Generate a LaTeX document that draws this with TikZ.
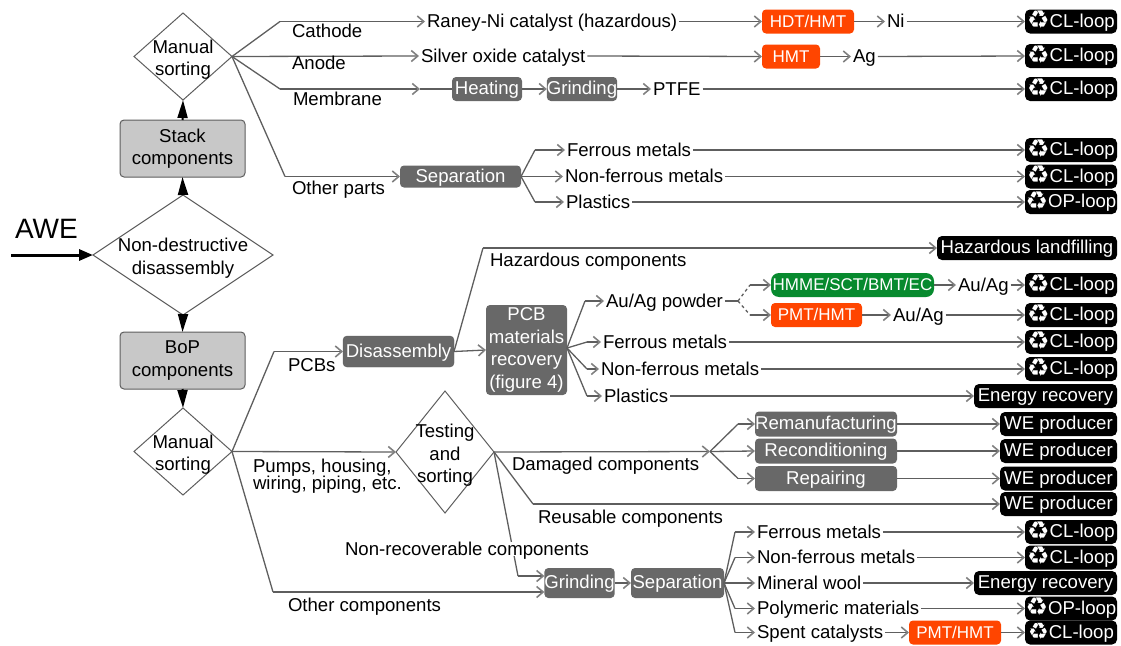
\documentclass[tikz,border=0pt]{standalone}
\usepackage{fontspec}
\usepackage{tikz}
\usetikzlibrary{arrows.meta}
\usetikzlibrary{shapes.geometric}
\setmainfont{Liberation Sans}
\newfontfamily\symfont{DejaVu Sans}
\newcommand{\recy}{\raisebox{-1.5pt}{\symfont\fontsize{25}{25}\selectfont ♻}}
\newcommand{\recylow}{\raisebox{-1pt}{\symfont\fontsize{23}{23}\selectfont ♻}}
\newcommand{\lift}{\rule{0pt}{20pt}}
\definecolor{linegrey}{HTML}{5E5E5E}
\definecolor{tipgrey}{HTML}{808080}
\definecolor{stepgrey}{HTML}{686868}
\definecolor{partgrey}{HTML}{C8C8C8}
\definecolor{hazorange}{HTML}{FF4500}
\definecolor{ecogreen}{HTML}{078A2E}

\begin{document}
\begin{tikzpicture}
	[x=1pt,y=-1pt,
	every node/.style={font=\fontsize{18.6}{22.5}\selectfont,inner sep=0pt,outer sep=0pt},
	lbl/.style={anchor=west,inner xsep=2pt,text height=13pt,text depth=1pt},
	choice/.style={diamond,draw=linegrey,line width=1pt,inner sep=-9pt,align=center},
	part/.style={rectangle,rounded corners=4pt,draw=linegrey,line width=1pt,fill=partgrey,align=center,minimum width=125,minimum height=57},
	stepfill/.style={rectangle,rounded corners=4pt,fill=stepgrey,text=white,align=center},
	stepbox/.style={stepfill,minimum height=24,text height=12.5pt,text depth=1pt},
	hotbox/.style={rectangle,rounded corners=4pt,fill=hazorange,text=white,minimum height=24,font=\fontsize{17}{22}\selectfont,text height=12.5pt,text depth=1pt},
	pill/.style={rectangle,rounded corners=5pt,fill=black,text=white,minimum height=24,text height=12.5pt,text depth=1pt},
	loopbox/.style={pill,minimum width=92},
	wemaker/.style={pill,minimum width=117},
	energy/.style={pill,minimum width=143},
	link/.style={draw=linegrey,line width=1.3pt,-{Straight Barb[length=6.5pt,width=11pt,line width=1.6pt,color=tipgrey]}},
	plainlink/.style={draw=linegrey,line width=1.3pt},
	flow/.style={draw=black,line width=2pt,-{Triangle[length=18pt,width=10pt]}}]
	\useasboundingbox (0,0) rectangle (1121,645);

	\node[choice,minimum width=98,minimum height=87,shape aspect=1.13] (sort1) at (183,56.5) {\lift Manual\\sorting};
	\node[part] (stack) at (182.5,148.5) {Stack\\components};
	\node[choice,minimum width=180,minimum height=120,shape aspect=1.5] (disasm) at (183,255) {\lift Non-destructive\\disassembly};
	\node[part] (bop) at (182.5,360.5) {BoP\\components};
	\node[choice,minimum width=98,minimum height=87,shape aspect=1.13] (sort2) at (183,451.5) {\lift Manual\\sorting};
	\node[choice,minimum width=98,minimum height=122,shape aspect=0.8] (test) at (445,452) {\lift Testing\\and\\sorting};
	\node[anchor=west,font=\fontsize{28}{28}\selectfont] (awe) at (15,229) {AWE};
	\coordinate (awein) at (11,255);

	\node[lbl] (raney) at (425,21.5) {Raney-Ni catalyst (hazardous)};
	\node[hotbox,minimum width=92] (hdt) at (808,21.5) {HDT/HMT};
	\node[lbl] (ni) at (885,21.5) {Ni};
	\node[loopbox] (cl1) at (1071,21.5) {\recy CL-loop};
	\node[lbl] (silver) at (419,56) {Silver oxide catalyst};
	\node[hotbox,minimum width=58] (hmt) at (791,56.5) {HMT};
	\node[lbl] (ag) at (851,56.5) {Ag};
	\node[loopbox] (cl2) at (1071,56) {\recy CL-loop};
	\node[stepbox,minimum width=70] (heat) at (487,89) {Heating};
	\node[stepbox,minimum width=70] (grind1) at (582,89) {Grinding};
	\node[lbl] (ptfe) at (651,89) {PTFE};
	\node[loopbox] (cl3) at (1071,89) {\recy CL-loop};

	\node[stepbox,minimum width=121,minimum height=22] (sep1) at (460.5,176.5) {Separation};
	\node[lbl] (fe1) at (565,150) {Ferrous metals};
	\node[lbl] (nf1) at (563,176.5) {Non-ferrous metals};
	\node[lbl] (pl1) at (564,202) {Plastics};
	\node[loopbox] (cl4) at (1071,150) {\recy CL-loop};
	\node[loopbox] (cl5) at (1071,176.5) {\recy CL-loop};
	\node[loopbox] (op1) at (1071,202) {\recy OP-loop};
	\node[pill,minimum width=180] (landfill) at (1027,248) {Hazardous landfilling};

	\node[stepbox,minimum width=111,minimum height=31,draw=linegrey] (dis) at (398.5,351.5) {Disassembly};
	\node[stepfill,minimum width=81,minimum height=90] (pcb) at (526.5,350) {PCB\\materials\\recovery\\(figure 4)};
	\node[lbl] (powder) at (604,301) {Au/Ag powder};
	\node[hotbox,minimum width=163,fill=ecogreen,rounded corners=8pt] (hmme) at (852.5,285) {HMME/SCT/BMT/EC};
	\node[hotbox,minimum width=91] (pmt1) at (816.5,315) {PMT/HMT};
	\node[lbl] (au1) at (956,285) {Au/Ag};
	\node[lbl] (au2) at (891,315) {Au/Ag};
	\node[loopbox] (cl6) at (1071,285) {\recy CL-loop};
	\node[loopbox] (cl7) at (1071,315) {\recy CL-loop};
	\node[lbl] (fe2) at (601,342) {Ferrous metals};
	\node[lbl] (nf2) at (599,369) {Non-ferrous metals};
	\node[lbl] (pl2) at (602,396) {Plastics};
	\node[loopbox] (cl8) at (1071,342) {\recy CL-loop};
	\node[loopbox] (cl9) at (1071,369) {\recy CL-loop};
	\node[energy] (en1) at (1045.5,396) {Energy recovery};

	\node[stepbox,minimum width=142,minimum height=25] (reman) at (826,424) {Remanufacturing};
	\node[stepbox,minimum width=142,minimum height=25] (recon) at (826,451) {Reconditioning};
	\node[stepbox,minimum width=142,minimum height=25] (repair) at (826,478.5) {Repairing};
	\node[wemaker] (we1) at (1058.5,424) {WE producer};
	\node[wemaker] (we2) at (1058.5,451) {WE producer};
	\node[wemaker] (we3) at (1058.5,478.5) {WE producer};
	\node[wemaker] (we4) at (1058.5,504) {WE producer};

	\node[stepbox,minimum width=69,minimum height=30] (grind2) at (579.5,583) {Grinding};
	\node[stepbox,minimum width=93,minimum height=30] (sep2) at (677.5,583) {Separation};
	\node[lbl] (fe3) at (755,532) {Ferrous metals};
	\node[lbl] (nf3) at (755,557.5) {Non-ferrous metals};
	\node[lbl] (wool) at (755,583) {Mineral wool};
	\node[lbl] (poly) at (755,608.5) {Polymeric materials};
	\node[lbl] (spent) at (755,632.5) {Spent catalysts};
	\node[hotbox,minimum width=92] (pmt2) at (955,632.5) {PMT/HMT};
	\node[loopbox] (cl10) at (1071,532) {\recy CL-loop};
	\node[loopbox] (cl11) at (1071,557.5) {\recy CL-loop};
	\node[energy] (en2) at (1045.5,583) {Energy recovery};
	\node[loopbox] (op2) at (1071,608.5) {\recy OP-loop};
	\node[loopbox] (cl12) at (1071,632.5) {\recylow CL-loop};

	\coordinate (bendcat) at (280,21.5);
	\coordinate (bendmem) at (280,89);
	\coordinate (tipmem) at (420,89);
	\coordinate (bendoth) at (285,176.5);
	\coordinate (bendfe1) at (535,150);
	\coordinate (bendpl1) at (535,202);
	\coordinate (bendpcb) at (274,351.5);
	\coordinate (bendhaz) at (483,248);
	\coordinate (pcbout) at (567,348);
	\coordinate (bendpow) at (585,301);
	\coordinate (bendfe2) at (587,342);
	\coordinate (bendnf2) at (587,369);
	\coordinate (bendpl2) at (587,396);
	\coordinate (forkau) at (738,301);
	\coordinate (bendhm) at (750,285);
	\coordinate (bendpm) at (750,315);
	\coordinate (forkdam) at (710,451.5);
	\coordinate (bendrem) at (738,424);
	\coordinate (bendrep) at (738,478.5);
	\coordinate (bendreu) at (533,504);
	\coordinate (bendnon) at (518,576);
	\coordinate (bendother) at (273,592);
	\coordinate (bendfe3) at (735,532);
	\coordinate (bendnf3) at (735,557.5);
	\coordinate (bendpo3) at (735,608.5);
	\coordinate (bendsp3) at (735,632.5);

	\draw[flow,line width=3pt,-{Triangle[length=14pt,width=11pt]}] (awein) -- (disasm.west);
	\foreach \from/\to in
	{disasm/stack, stack/sort1}
	\draw[flow] (\from.north) -- (\to.south);
	\foreach \from/\to in
	{disasm/bop, bop/sort2}
	\draw[flow] (\from.south) -- (\to.north);

	\foreach \from/\to in
	{raney/hdt, hdt/ni, ni/cl1, silver/hmt, hmt/ag, ag/cl2, heat/grind1, grind1/ptfe, ptfe/cl3,
	fe1/cl4, nf1/cl5, pl1/op1, dis/pcb, hmme/au1, au1/cl6, pmt1/au2, au2/cl7,
	fe2/cl8, nf2/cl9, pl2/en1, reman/we1, recon/we2, repair/we3, sort2/test,
	grind2/sep2, fe3/cl10, nf3/cl11, wool/en2, poly/op2, spent/pmt2, pmt2/cl12}
	\draw[link] (\from.east) -- (\to.west);

	\foreach \from/\to in
	{bendcat/raney, bendoth/sep1, bendfe1/fe1, bendpl1/pl1, bendpcb/dis, bendhaz/landfill,
	bendpow/powder, bendfe2/fe2, bendnf2/nf2, bendpl2/pl2, bendhm/hmme, bendpm/pmt1,
	bendrem/reman, bendrep/repair, bendreu/we4,
	bendfe3/fe3, bendnf3/nf3, bendpo3/poly, bendsp3/spent}
	\draw[link] (\from) -- (\to.west);

	\draw[plainlink] (sort1.east) -- (bendcat);
	\draw[plainlink] (sort1.east) -- (bendmem);
	\draw[plainlink] (sort1.east) -- (bendoth);
	\draw[link] (sort1.east) -- (silver.west);
	\draw[link] (bendmem) -- (tipmem);
	\draw[plainlink] (tipmem) -- (heat.west);
	\draw[plainlink] (sep1.east) -- (bendfe1);
	\draw[plainlink] (sep1.east) -- (bendpl1);
	\draw[link] (sep1.east) -- (nf1.west);
	\draw[plainlink] (sort2.east) -- (bendpcb);
	\draw[plainlink] (sort2.east) -- (bendother);
	\draw[link] (bendother) -- (bendother -| grind2.west);
	\draw[plainlink] (dis.east) -- (bendhaz);
	\draw[plainlink] (pcbout) -- (bendpow);
	\draw[plainlink] (pcbout) -- (bendfe2);
	\draw[plainlink] (pcbout) -- (bendnf2);
	\draw[plainlink] (pcbout) -- (bendpl2);
	\draw[plainlink] (powder.east) -- (forkau);
	\draw[plainlink,dashed] (forkau) -- (bendhm);
	\draw[plainlink,dashed] (forkau) -- (bendpm);
	\draw[link] (test.east) -- (forkdam);
	\draw[plainlink] (forkdam) -- (bendrem);
	\draw[plainlink] (forkdam) -- (bendrep);
	\draw[link] (forkdam) -- (recon.west);
	\draw[plainlink] (test.east) -- (bendreu);
	\draw[plainlink] (test.east) -- (bendnon);
	\draw[link] (bendnon) -- (bendnon -| grind2.west);
	\foreach \to in
	{bendfe3, bendnf3, bendpo3, bendsp3}
	\draw[plainlink] (sep2.east) -- (\to);
	\draw[link] (sep2.east) -- (wool.west);

	\node[lbl] (lcat) at (290,31) {Cathode};
	\node[lbl] (lano) at (290,63.5) {Anode};
	\node[lbl] (lmem) at (291,99) {Membrane};
	\node[lbl] (loth) at (290,188) {Other parts};
	\node[lbl] (lhaz) at (488,260) {Hazardous components};
	\node[lbl] (lpcb) at (286,365) {PCBs};
	\node[anchor=north west,align=left] (lpump) at (253,459) {Pumps, housing,\\[-5.5pt]wiring, piping, etc.};
	\node[lbl] (ldam) at (510,464) {Damaged components};
	\node[lbl] (lreu) at (536,517) {Reusable components};
	\node[lbl,fill=white] (lnon) at (343,549) {Non-recoverable components};
	\node[lbl] (lcom) at (286,605.5) {Other components};
\end{tikzpicture}
\end{document}
